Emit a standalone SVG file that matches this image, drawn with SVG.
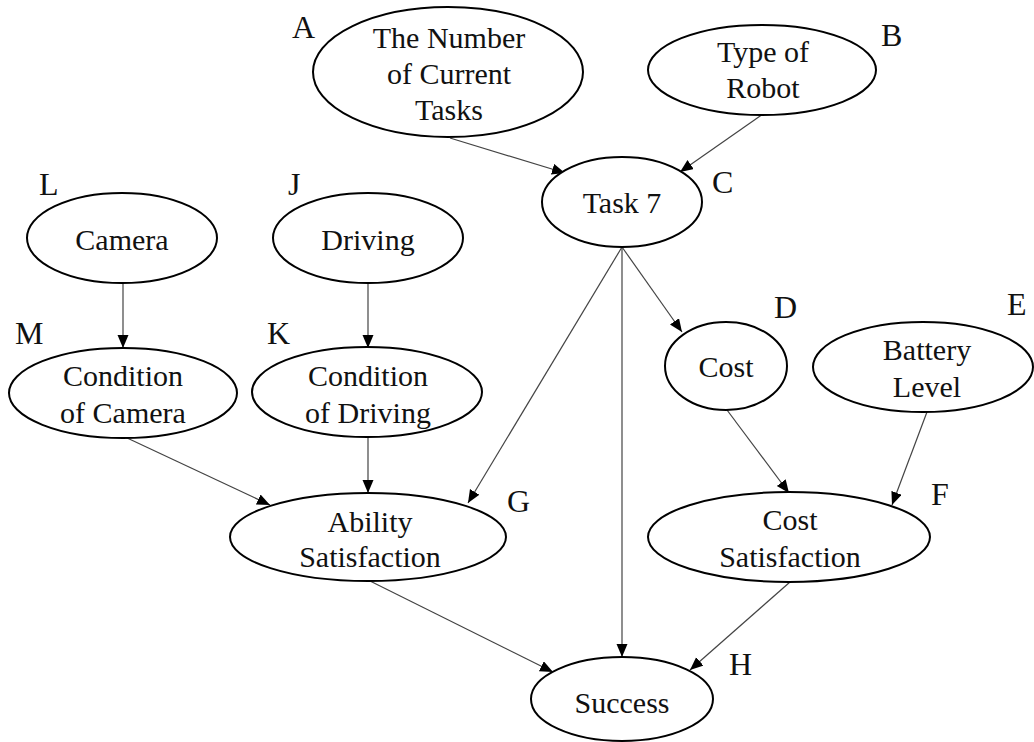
<svg xmlns="http://www.w3.org/2000/svg" width="1034" height="742" viewBox="0 0 1034 742">
<style>
.n{fill:#fff;stroke:#000;stroke-width:2}
.t{font-family:"Liberation Serif","Times New Roman",serif;font-size:30px;fill:#111;text-anchor:middle}
.l{font-family:"Liberation Serif","Times New Roman",serif;font-size:32px;fill:#111}
.e{stroke:#444;stroke-width:1.2;fill:none;marker-end:url(#ah)}
</style>
<defs>
<marker id="ah" markerUnits="userSpaceOnUse" markerWidth="14" markerHeight="12" refX="13" refY="5.5" orient="auto">
<path d="M0,0 L13,5.5 L0,11 z" fill="#000"/>
</marker>
</defs>
<rect width="1034" height="742" fill="#fff"/>
<g id="connectors">
<line class="e" x1="450" y1="138" x2="565" y2="173"/>
<line class="e" x1="763" y1="114" x2="680" y2="172"/>
<line class="e" x1="123" y1="283" x2="123" y2="348"/>
<line class="e" x1="368" y1="283" x2="368" y2="348"/>
<line class="e" x1="622" y1="247" x2="682" y2="332"/>
<line class="e" x1="622" y1="247" x2="468" y2="503"/>
<line class="e" x1="622" y1="247" x2="622" y2="657"/>
<line class="e" x1="125" y1="437" x2="270" y2="505"/>
<line class="e" x1="368" y1="437" x2="368" y2="493"/>
<line class="e" x1="727" y1="410" x2="789" y2="493"/>
<line class="e" x1="927" y1="412" x2="892" y2="505"/>
<line class="e" x1="370" y1="581" x2="553" y2="672"/>
<line class="e" x1="790" y1="582" x2="690" y2="670"/>
</g>
<g id="nodeA">
<ellipse class="n" cx="448" cy="72" rx="135" ry="65"/>
<text class="t" x="449" y="48">The Number</text>
<text class="t" x="449" y="84">of Current</text>
<text class="t" x="449" y="120">Tasks</text>
<text class="l" x="292" y="38">A</text>
</g>
<g id="nodeB">
<ellipse class="n" cx="762" cy="70" rx="114" ry="45"/>
<text class="t" x="763" y="62">Type of</text>
<text class="t" x="763" y="98">Robot</text>
<text class="l" x="881" y="46">B</text>
</g>
<g id="nodeC">
<ellipse class="n" cx="622" cy="202" rx="80" ry="45"/>
<text class="t" x="622" y="213">Task 7</text>
<text class="l" x="712" y="193">C</text>
</g>
<g id="nodeL">
<ellipse class="n" cx="122" cy="238" rx="95" ry="45"/>
<text class="t" x="122" y="250">Camera</text>
<text class="l" x="39" y="195">L</text>
</g>
<g id="nodeJ">
<ellipse class="n" cx="368" cy="238" rx="95" ry="45"/>
<text class="t" x="368" y="250">Driving</text>
<text class="l" x="288" y="195">J</text>
</g>
<g id="nodeM">
<ellipse class="n" cx="123" cy="393" rx="114" ry="45"/>
<text class="t" x="123" y="386">Condition</text>
<text class="t" x="123" y="423">of Camera</text>
<text class="l" x="15" y="344">M</text>
</g>
<g id="nodeK">
<ellipse class="n" cx="367" cy="392" rx="115" ry="45"/>
<text class="t" x="368" y="386">Condition</text>
<text class="t" x="368" y="423">of Driving</text>
<text class="l" x="267" y="344">K</text>
</g>
<g id="nodeD">
<ellipse class="n" cx="726" cy="366" rx="61" ry="44"/>
<text class="t" x="726" y="377">Cost</text>
<text class="l" x="774" y="318">D</text>
</g>
<g id="nodeE">
<ellipse class="n" cx="923" cy="367" rx="110" ry="45"/>
<text class="t" x="927" y="360">Battery</text>
<text class="t" x="927" y="397">Level</text>
<text class="l" x="1007" y="315">E</text>
</g>
<g id="nodeF">
<ellipse class="n" cx="789" cy="537" rx="141" ry="45"/>
<text class="t" x="790" y="530">Cost</text>
<text class="t" x="790" y="567">Satisfaction</text>
<text class="l" x="931" y="505">F</text>
</g>
<g id="nodeG">
<ellipse class="n" cx="368" cy="537" rx="138" ry="44"/>
<text class="t" x="370" y="532">Ability</text>
<text class="t" x="370" y="567">Satisfaction</text>
<text class="l" x="507" y="512">G</text>
</g>
<g id="nodeH">
<ellipse class="n" cx="622" cy="699" rx="91" ry="42"/>
<text class="t" x="622" y="713">Success</text>
<text class="l" x="729" y="675">H</text>
</g>
</svg>
